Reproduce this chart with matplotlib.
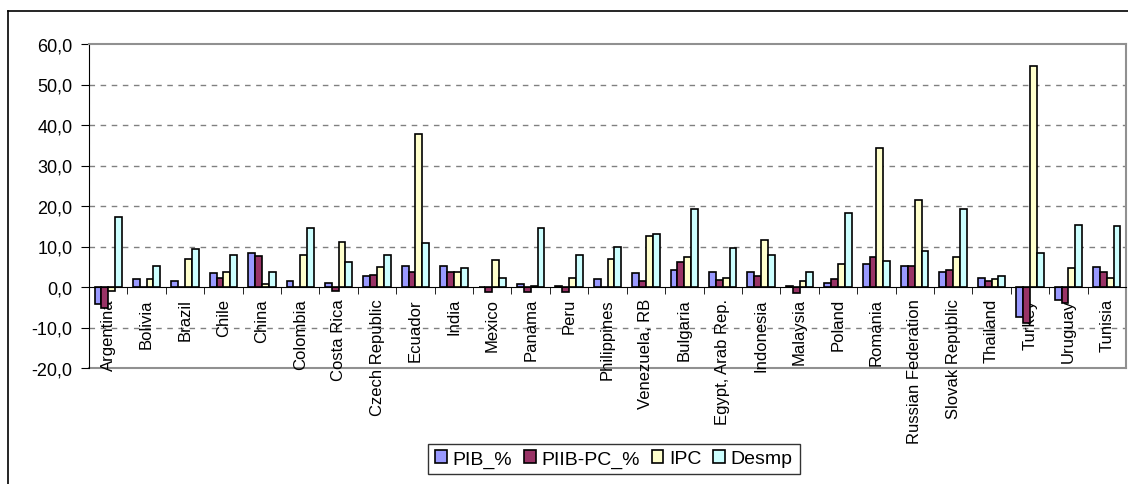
import numpy as np
import matplotlib
matplotlib.use("Agg")
import matplotlib.pyplot as plt
from matplotlib.lines import Line2D

# ==========================
# Dati
# ==========================
countries = ["Argentina", "Bolivia", "Brazil", "Chile", "China", "Colombia",
             "Costa Rica", "Czech Republic", "Ecuador", "India", "Mexico",
             "Panama", "Peru", "Philippines", "Venezuela, RB", "Bulgaria",
             "Egypt, Arab Rep.", "Indonesia", "Malaysia", "Poland", "Romania",
             "Russian Federation", "Slovak Republic", "Thailand", "Turkey",
             "Uruguay", "Tunisia"]

pib = [-4.3, 1.9, 1.5, 3.4, 8.4, 1.5, 1.0, 2.6, 5.3, 5.3, 0.0, 0.7, 0.3,
       1.9, 3.4, 4.2, 3.8, 3.8, 0.3, 1.1, 5.7, 5.3, 3.8, 2.2, -7.4, -3.3, 4.9]
piib_pc = [-5.2, 0.0, 0.0, 2.2, 7.6, 0.0, -0.9, 3.0, 3.8, 3.8, -1.2, -1.2, -1.2,
           0.0, 1.5, 6.1, 1.8, 2.6, -1.6, 1.9, 7.3, 5.3, 4.2, 1.5, -9.0, -3.9, 3.8]
ipc = [-0.9, 1.9, 7.0, 3.8, 0.7, 8.0, 11.1, 4.9, 37.9, 3.8, 6.6, 0.3, 2.2,
       7.0, 12.7, 7.3, 2.2, 11.6, 1.5, 5.7, 34.4, 21.6, 7.3, 1.9, 54.5, 4.6, 2.2]
desmp = [17.4, 5.3, 9.3, 8.0, 3.8, 14.6, 6.1, 8.0, 10.8, 4.6, 2.2, 14.6, 8.0,
         10.0, 13.1, 19.3, 9.7, 8.0, 3.8, 18.2, 6.5, 8.9, 19.3, 2.6, 8.4, 15.4, 15.0]

series = [("PIB_%", pib, "#9999FF"),
          ("PIIB-PC_%", piib_pc, "#993366"),
          ("IPC", ipc, "#FFFFCC"),
          ("Desmp", desmp, "#CCFFFF")]

yticks = np.arange(-20, 61, 10)

# ==========================
# Plot
# ==========================
plt.rcParams['font.family'] = ['Liberation Sans', 'DejaVu Sans']

fig = plt.figure(figsize=(11.28, 4.85), dpi=100)
ax = fig.add_axes([89 / 1128, 1 - 369 / 485, (1126 - 89) / 1128, (369 - 45) / 485])

# cornice esterna
fig.add_artist(Line2D([8 / 1128, 8 / 1128], [0, 1 - 12 / 485], color="black", lw=1.2,
                      transform=fig.transFigure))
fig.add_artist(Line2D([8 / 1128, 1], [1 - 12 / 485, 1 - 12 / 485], color="black", lw=1.2,
                      transform=fig.transFigure))

x = np.arange(len(countries))
w = 0.178
for i, (name, vals, col) in enumerate(series):
    ax.bar(x + (i - 1.5) * w, vals, width=w, color=col, edgecolor="black",
           linewidth=1.2, label=name, zorder=3)

ax.set_xlim(-0.5, len(countries) - 0.5)
ax.set_ylim(-20, 60)
ax.set_yticks(yticks)
ax.set_yticklabels([f"{v:.1f}".replace(".", ",") for v in yticks], fontsize=13)

for v in yticks:
    if v in (-20, 0, 60):
        continue
    ax.axhline(v, color="#808080", lw=1.0, ls=(0, (4, 4)), zorder=1)
ax.axhline(-20, color="#909090", lw=1.5, zorder=1, clip_on=False)

ax.spines['bottom'].set_position(('data', 0))
ax.spines['bottom'].set_color("black")
ax.spines['bottom'].set_zorder(4)
ax.spines['top'].set_color("#909090")
ax.spines['top'].set_linewidth(1.5)
ax.spines['right'].set_color("#909090")
ax.spines['right'].set_linewidth(1.5)
ax.spines['left'].set_color("black")

ax.set_xticks(x)
ax.set_xticklabels(countries, rotation=90, fontsize=12)
ax.set_xticks(np.arange(-0.5, len(countries), 1), minor=True)
ax.tick_params(axis='x', which='major', length=0, pad=8)
ax.tick_params(axis='x', which='minor', length=5, direction='out')
ax.tick_params(axis='y', length=6, direction='out', pad=6)

leg = ax.legend(loc="center", bbox_to_anchor=(614 / 1128, 1 - 460 / 485),
                bbox_transform=fig.transFigure, ncol=4, fontsize=14,
                frameon=True, fancybox=False, handlelength=0.6, handleheight=0.6,
                handletextpad=0.3, columnspacing=0.6, borderpad=0.35)
leg.get_frame().set_edgecolor("black")
leg.get_frame().set_linewidth(1.0)

fig.savefig("out.png", dpi=100)
